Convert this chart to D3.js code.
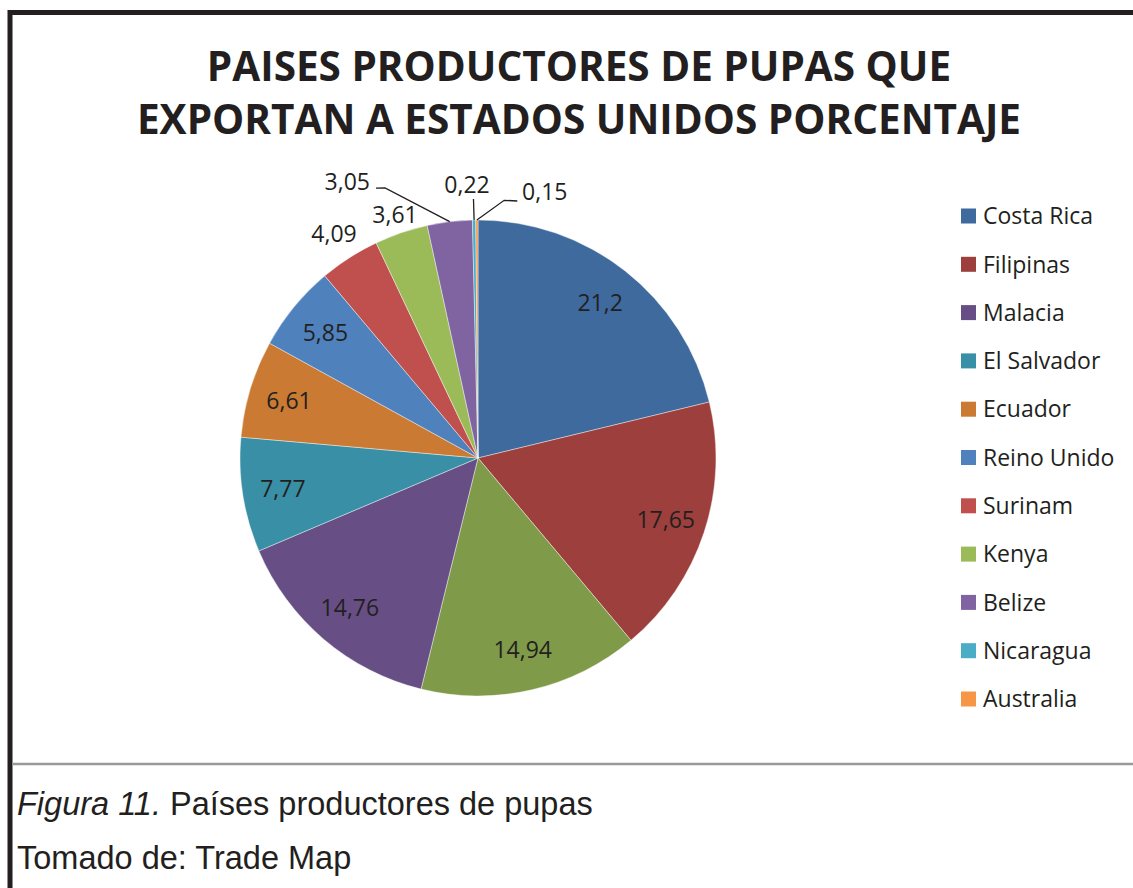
<!DOCTYPE html>
<html>
<head>
<meta charset="utf-8">
<script src="https://cdn.jsdelivr.net/npm/d3@7"></script>
<style>
  body { margin: 0; background: #fff; }
</style>
</head>
<body>
<div id="chart"></div>
<script>
// chart data
const countries = ["Costa Rica", "Filipinas", "", "Malacia", "El Salvador", "Ecuador",
  "Reino Unido", "Surinam", "Kenya", "Belize", "Nicaragua", "Australia"];
const values = [21.2, 17.65, 14.94, 14.76, 7.77, 6.61, 5.85, 4.09, 3.61, 3.05, 0.22, 0.15];
const colors = ["#3F6A9E", "#9D3F3C", "#7F9A48", "#674F86", "#398FA6", "#CB7A33",
  "#4F81BD", "#C0504D", "#9BBB59", "#8064A2", "#4BACC6", "#F79646"];
const titleLines = ["PAISES PRODUCTORES DE PUPAS QUE", "EXPORTAN A ESTADOS UNIDOS PORCENTAJE"];

const width = 1133, height = 888;
const cx = 478, cy = 458, radius = 238;
const ink = "#231f20";

const data = countries.map((c, i) => ({ country: c, value: values[i], color: colors[i] }));

const svg = d3.select("#chart").append("svg")
  .attr("width", width)
  .attr("height", height)
  .style("font-family", "'Open Sans', sans-serif");

// frame
svg.append("line").attr("x1", 8).attr("x2", width).attr("y1", 12.5).attr("y2", 12.5)
  .attr("stroke", ink).attr("stroke-width", 5);
svg.append("line").attr("x1", 10).attr("x2", 10).attr("y1", 10).attr("y2", height)
  .attr("stroke", ink).attr("stroke-width", 5);
svg.append("line").attr("x1", 12).attr("x2", width).attr("y1", 764).attr("y2", 764)
  .attr("stroke", "#999").attr("stroke-width", 2.5);

// title
svg.append("g").selectAll("text")
  .data(titleLines)
  .join("text")
  .attr("x", 579)
  .attr("y", (d, i) => 81 + i * 53)
  .attr("text-anchor", "middle")
  .style("font-size", "40.5px")
  .style("font-weight", "bold")
  .style("fill", ink)
  .text(d => d);

// pie
const pie = d3.pie().value(d => d.value).sort(null);
const arcs = pie(data);
const arc = d3.arc().innerRadius(0).outerRadius(radius);
const g = svg.append("g").attr("transform", `translate(${cx},${cy})`);

g.selectAll("path")
  .data(arcs)
  .join("path")
  .attr("d", arc)
  .attr("fill", d => d.data.color)
  .attr("stroke", "#fff")
  .attr("stroke-opacity", 0.6)
  .attr("stroke-width", 0.7);

const fmt = v => String(v).replace(".", ",");
const polar = (angle, r) => [r * Math.sin(angle), -r * Math.cos(angle)];
const mid = d => (d.startAngle + d.endAngle) / 2;
const deg = Math.PI / 180;

// how each label sits: inside, just outside, or with a leader line
const labelMode = ["in", "in", "in", "in", "in", "in", "in", "out", "out", "lead", "lead", "lead"];
const outFactor = { 7: 1.12, 8: 1.08 };
const leaders = {
  9: { text: [-21.4 * deg, 296], elbow: [-19 * deg, 285.6], end: [-20.7 * deg, 288.6], anchor: "end" },
  10: { text: [-2.3 * deg, 273], elbow: null, end: [-1.0 * deg, 259], anchor: "middle" },
  11: { text: [9.4 * deg, 269.6], elbow: [5.8 * deg, 259], end: [8.7 * deg, 260], anchor: "start" }
};

const labels = svg.append("g").attr("transform", `translate(${cx},${cy})`)
  .style("font-size", "23px")
  .style("fill", ink);

arcs.forEach((d, i) => {
  const mode = labelMode[i];
  if (mode === "lead") {
    const L = leaders[i];
    const p0 = polar(mid(d), radius);
    const pts = [p0];
    if (L.elbow) pts.push(polar(...L.elbow));
    pts.push(polar(...L.end));
    labels.append("path")
      .attr("d", d3.line()(pts))
      .attr("fill", "none")
      .attr("stroke", ink)
      .attr("stroke-width", 1.3);
    const t = polar(...L.text);
    labels.append("text")
      .attr("x", t[0]).attr("y", t[1])
      .attr("dy", "0.35em")
      .attr("text-anchor", L.anchor)
      .text(fmt(d.data.value));
  } else {
    const f = mode === "in" ? 0.83 : outFactor[i];
    const p = polar(mid(d), radius * f);
    labels.append("text")
      .attr("x", p[0]).attr("y", p[1])
      .attr("dy", "0.35em")
      .attr("text-anchor", "middle")
      .text(fmt(d.data.value));
  }
});

// legend (the unnamed slice has no entry)
const legendData = data.filter(d => d.country !== "");
const legend = svg.append("g").selectAll("g")
  .data(legendData)
  .join("g")
  .attr("transform", (d, i) => `translate(961,${216 + i * 48.3})`);
legend.append("rect")
  .attr("x", 0).attr("y", -7.5)
  .attr("width", 15).attr("height", 15)
  .attr("fill", d => d.color);
legend.append("text")
  .attr("x", 22).attr("dy", "0.36em")
  .style("font-size", "23px")
  .style("fill", ink)
  .text(d => d.country);

// caption
const cap = svg.append("g")
  .style("font-family", "'Liberation Sans', Arial, sans-serif")
  .style("font-size", "32.5px")
  .style("fill", ink);
const line1 = cap.append("text").attr("x", 17).attr("y", 815);
line1.append("tspan").style("font-style", "italic").text("Figura 11.");
line1.append("tspan").text(" Países productores de pupas");
cap.append("text").attr("x", 17).attr("y", 869).text("Tomado de: Trade Map");
</script>
</body>
</html>
